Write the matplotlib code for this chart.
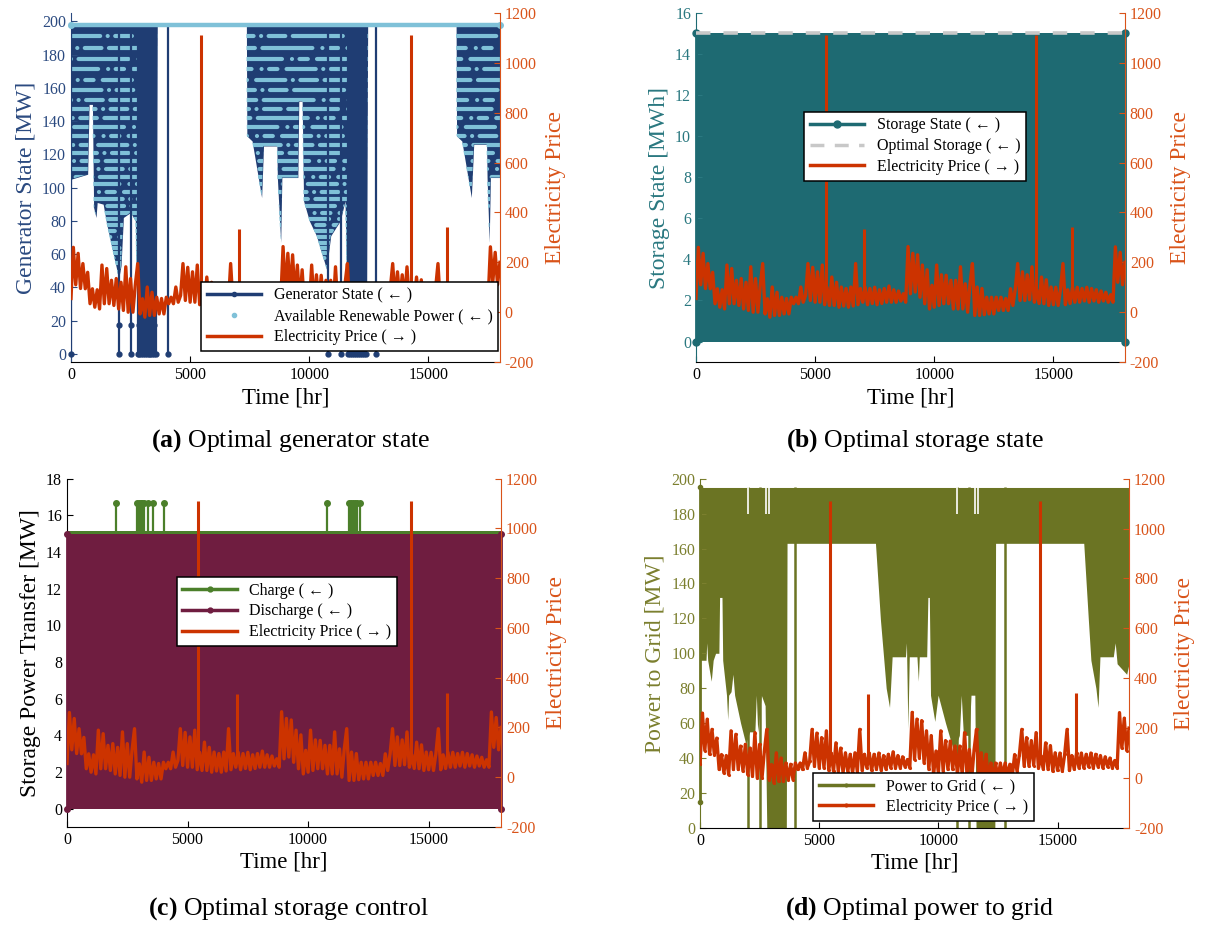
"""Optimal dispatch figure: generator, storage, storage control and grid power
against electricity price (values read off the published figure)."""
import numpy as np
import matplotlib
matplotlib.use("Agg")
import matplotlib.pyplot as plt
from matplotlib.lines import Line2D

plt.rcParams["font.family"] = ["Liberation Serif", "DejaVu Serif"]
plt.rcParams["mathtext.fontset"] = "custom"
plt.rcParams["mathtext.rm"] = "Liberation Serif"
plt.rcParams["mathtext.bf"] = "Liberation Serif:bold"
plt.rcParams["axes.unicode_minus"] = False

# ---------------------------------------------------------------- data
T_END = 18000
PRICE_STEP = 100  # hr between the price samples below
PRICE = [
    55, 260, 110, 236, 95, 195, 94, 160, 34, 94,
    20, 90, 13, 189, 34, 175, 34, 128, 27, 135,
    13, 120, 7, 182, 0, 135, 0, 110, 195, -7,
    54, -20, 101, -13, 80, -13, 60, -7, 55, -7,
    60, 34, 60, 34, 101, 40, 67, 195, 47, 180,
    40, 162, 40, 189, 30, 100, 27, 141, 27, 120,
    20, 101, 25, 95, 20, 101, 25, 195, 30, 95,
    40, 100, 30, 95, 35, 100, 30, 90, 35, 95,
    40, 105, 40, 90, 40, 85, 45, 74, 40, 263,
    74, 236, 81, 230, 60, 189, 34, 170, 13, 108,
    20, 189, 27, 150, 34, 148, 34, 128, 13, 128,
    13, 182, 13, 114, 0, 114, 195, -13, 101, -13,
    95, -10, 60, -7, 60, -7, 60, 7, 60, 7,
    55, 7, 94, 27, 94, 195, 47, 162, 47, 150,
    50, 182, 40, 90, 35, 141, 34, 130, 27, 101,
    30, 100, 27, 95, 195, 30, 90, 35, 100, 40,
    100, 40, 95, 45, 100, 40, 95, 45, 90, 40,
    85, 45, 80, 40, 70, 40, 262, 120, 240, 110,
    200,
]
SPIKE_T = [5450, 7060, 14250, 15760]
SPIKE_BASE = [60, 60, 60, 60]
SPIKE_TOP = [1110, 335, 1110, 340]

# (a) generator / renewable availability
GEN_TOP = 198
GEN_ENV_T = [0, 700, 760, 900, 950, 1050, 1100, 1350, 1500, 1700, 1900, 2000,
             2100, 2200, 2500, 2700, 2780, 3580, 3620, 7360, 7380, 7600, 8000,
             8080, 8640, 8660, 8800, 8850, 9520, 9560, 9700, 9760, 10000, 10300,
             10720, 10900, 11300, 11500, 11600, 12400, 12450, 16160, 16180,
             16400, 16800, 16900, 17440, 17460, 17550, 17600, 18000]
GEN_ENV = [105, 108, 150, 150, 88, 82, 91, 90, 78, 65, 52, 45,
           53, 82, 85, 80, 25, 25, 198, 198, 131, 128, 94,
           125, 125, 106, 67, 106, 106, 152, 152, 92, 80, 71,
           51, 71, 80, 92, 25, 25, 198, 198, 131,
           128, 94, 126, 126, 106, 67, 106, 106]
RENEW_LEVELS = [191.1, 184.2, 177.6, 171.1, 164.8, 158.8, 152.7, 147.3, 141.6,
                136.2, 130.9, 125.7, 120.6, 115.8, 110.9, 106.3, 101.9, 97.4,
                93.2, 89.0, 84.9, 81.1, 77.4, 73.8, 70.4, 66.9, 63.7, 60.7,
                57.6, 54.8, 52.0, 49.4, 46.7]
GEN_DENSE = [(2780, 3580), (11600, 12400)]
GEN_DENSE_LO = 24
GEN_DROP_T = [0, 2030, 2520, 2800, 2870, 2950, 3020, 3100, 3180, 3260, 3330,
              3420, 3480, 3560, 4070, 10800, 11330, 11620, 11700, 11780, 11860,
              11950, 12030, 12110, 12200, 12280, 12360, 12800]
GEN_MID_T = [2030, 2520, 2870, 3020, 3180, 3330, 3480]
GEN_MID = 17

# (b) storage
STORAGE_MIN, STORAGE_MAX = 0, 15
OPT_STORAGE = 15

# (c) storage control
CHARGE_BASE = 15.15
CHARGE_SPIKE = 16.7
CHARGE_SPIKE_T = [2030, 2920, 2990, 3060, 3130, 3210, 3350, 3550, 4040,
                  10800, 11710, 11790, 11870, 11950, 12040, 12140]
DISCHARGE_MAX = 15

# (d) power to grid
GRID_TOP = 195
GRID_START = 15
GRID_ENV_T = [0, 250, 280, 320, 470, 550, 650, 790, 820, 920, 950, 1110, 1160,
              1200, 1300, 1380, 1450, 1700, 1920, 2080, 2300, 2360, 2420, 2570,
              2730, 2800, 3620, 3650, 7360, 7570, 7700, 7810, 7950, 8060, 8620,
              8660, 8720, 8780, 9100, 9160, 9200, 9510, 9560, 9620, 9670, 9850,
              9990, 10300, 10640, 10880, 10960, 11050, 11290, 11370, 11530,
              11580, 12370, 12400, 16100, 16290, 16400, 16610, 16700, 16780,
              17340, 17420, 17500, 17900, 18000]
GRID_ENV = [96, 96, 106, 96, 84, 96, 100, 100, 132, 132, 96, 76, 62,
            76, 78, 88, 76, 60, 48, 55, 55, 76, 55, 76,
            70, 0, 0, 163, 163, 119, 98, 80, 69, 98, 98,
            106, 57, 98, 98, 84, 98, 98, 132, 132, 76, 61,
            76, 60, 44, 53, 76, 53, 53, 76, 76,
            0, 0, 163, 163, 120, 96, 80, 69, 98,
            98, 106, 94, 88, 94]
GRID_DROP_T = [2000, 2500, 3990, 10800, 11290, 12800]
GRID_GAP_T = [2000, 2760, 2900, 10800, 11530, 11680]
GRID_GAP_LO = 180

# ---------------------------------------------------------------- style
PRICE_C = "#cc3300"
RIGHT_C = "#d95319"
GEN_C = "#1f3d73"
GEN_LBL = "#2b4a80"
RENEW_C = "#7fc1d8"
TEAL = "#1e6a72"
TEAL_LBL = "#2a7880"
OPT_C = "#c8c8c8"
MAROON = "#6f1d40"
GREEN = "#4b7f2a"
OLIVE = "#6b7423"
OLIVE_LBL = "#7b7f2e"

PRICE_T = np.arange(len(PRICE)) * PRICE_STEP

fig = plt.figure(figsize=(12.07, 9.26), dpi=100)


def _twin(pos, left_color, ylim, yticks, ylabel, spine_color=None):
    ax = fig.add_axes(pos)
    ax2 = ax.twinx()
    ax.set_xlim(0, T_END)
    ax.set_xticks([0, 5000, 10000, 15000])
    ax.set_ylim(*ylim)
    ax.set_yticks(yticks)
    ax.set_xlabel("Time [hr]", fontsize=16.5, labelpad=3)
    ax.set_ylabel(ylabel, fontsize=17, color=left_color, labelpad=4)
    ax.tick_params(axis="y", colors=left_color, direction="in", labelsize=11.5,
                   length=4)
    ax.tick_params(axis="x", direction="in", labelsize=11.5, length=4)
    for s in ("top", "right"):
        ax.spines[s].set_visible(False)
    ax.spines["left"].set_color(spine_color or left_color)
    ax2.set_ylim(-200, 1200)
    ax2.set_yticks(range(-200, 1201, 200))
    ax2.tick_params(axis="y", colors=RIGHT_C, direction="in", labelsize=11.5,
                    length=4)
    ax2.set_ylabel("Electricity Price", fontsize=17, color=RIGHT_C, labelpad=6)
    for s in ("top", "left", "bottom"):
        ax2.spines[s].set_visible(False)
    ax2.spines["right"].set_color(RIGHT_C)
    return ax, ax2


def _price(ax2, marker=None):
    ax2.plot(PRICE_T, PRICE, color=PRICE_C, lw=2.4, marker=marker, ms=2.5,
             zorder=3)
    ax2.vlines(SPIKE_T, SPIKE_BASE, SPIKE_TOP, color=PRICE_C, lw=2.2, zorder=3)


def _legend(ax2, handles, labels, loc, anchor):
    leg = ax2.legend(handles, labels, loc=loc, bbox_to_anchor=anchor,
                     fontsize=11.5, fancybox=False, edgecolor="black",
                     framealpha=1, borderaxespad=0, handlelength=3.4,
                     labelspacing=0.3, borderpad=0.35)
    leg.get_frame().set_linewidth(1.1)
    leg.set_zorder(10)


def _caption(ax, y, tag, text):
    bb = ax.get_position()
    fig.text((bb.x0 + bb.x1) / 2 + 0.004, y, rf"$\mathbf{{({tag})}}$ {text}",
             ha="center", va="center", fontsize=18.5)


# ---------------------------------------------------------------- (a)
ax, ax2 = _twin([0.0588, 0.609, 0.3554, 0.377], GEN_LBL, (-5, 205),
                range(0, 201, 20), "Generator State [MW]")
band = ax.fill_between(GEN_ENV_T, GEN_ENV, GEN_TOP, color=GEN_C, lw=0, zorder=1)
clip = band.get_paths()[0]
for i, lv in enumerate(RENEW_LEVELS):
    ln, = ax.plot([0, T_END], [lv, lv], color=RENEW_C, lw=3.0, zorder=2,
                  dash_capstyle="round",
                  ls=((i * 7.3) % 50, (7, 1.8, 0.01, 1.8, 4, 1.8, 12, 2.4,
                                       0.01, 1.8, 2, 2.2)))
    ln.set_clip_path(clip, ax.transData)
for lo, hi in GEN_DENSE:
    ax.fill_between([lo, hi], GEN_DENSE_LO, GEN_TOP - 3, color=GEN_C, lw=0,
                    zorder=3)
ax.vlines(GEN_DROP_T, 0, GEN_TOP, color=GEN_C, lw=1.6, zorder=3)
ax.plot(GEN_DROP_T, [0] * len(GEN_DROP_T), "o", ms=3.5, color=GEN_C,
        clip_on=False, zorder=4)
ax.plot(GEN_MID_T, [GEN_MID] * len(GEN_MID_T), "o", ms=3.5, color=GEN_C,
        zorder=4)
ax.plot([0, T_END], [GEN_TOP, GEN_TOP], color=RENEW_C, lw=3.2, marker="o",
        ms=4, clip_on=False, zorder=4)
_price(ax2)
_legend(ax2,
        [Line2D([], [], color=GEN_C, lw=2.5, marker="o", ms=3),
         Line2D([], [], ls="none", marker="o", ms=3, color=RENEW_C),
         Line2D([], [], color=PRICE_C, lw=2.5)],
        ["Generator State ( \u2190 )", "Available Renewable Power ( \u2190 )",
         "Electricity Price ( \u2192 )"],
        "lower right", (0.996, 0.032))
_caption(ax, 0.524, "a", "Optimal generator state")

# ---------------------------------------------------------------- (b)
ax, ax2 = _twin([0.5766, 0.609, 0.3554, 0.377], TEAL_LBL, (-1, 16),
                range(0, 17, 2), "Storage State [MWh]", spine_color=TEAL)
ax.fill_between([0, T_END], STORAGE_MIN, STORAGE_MAX, color=TEAL, lw=0,
                zorder=1)
for t in (0, T_END):
    ax.plot([t, t], [STORAGE_MIN, STORAGE_MAX], color=TEAL, lw=2, marker="o",
            ms=5, clip_on=False, zorder=2)
ax.plot([0, T_END], [OPT_STORAGE, OPT_STORAGE], color=OPT_C, lw=2.6,
        dashes=(4, 3.6), zorder=3)
_price(ax2)
_legend(ax2,
        [Line2D([], [], color=TEAL, lw=2.5, marker="o", ms=5),
         Line2D([], [], color=OPT_C, lw=2.5, dashes=(4, 3)),
         Line2D([], [], color=PRICE_C, lw=2.5)],
        ["Storage State ( \u2190 )", "Optimal Storage ( \u2190 )",
         "Electricity Price ( \u2192 )"],
        "upper left", (0.253, 0.717))
_caption(ax, 0.524, "b", "Optimal storage state")

# ---------------------------------------------------------------- (c)
ax, ax2 = _twin([0.0555, 0.107, 0.3596, 0.376], "black", (-1, 18),
                range(0, 19, 2), "Storage Power Transfer [MW]")
ax.fill_between([0, T_END], 0, CHARGE_BASE, color=GREEN, lw=0, zorder=1)
ax.vlines(CHARGE_SPIKE_T, CHARGE_BASE, CHARGE_SPIKE, color=GREEN, lw=1.6,
          zorder=1)
ax.plot(CHARGE_SPIKE_T, [CHARGE_SPIKE] * len(CHARGE_SPIKE_T), "o", ms=4,
        color=GREEN, zorder=2)
ax.fill_between([0, T_END], 0, DISCHARGE_MAX, color=MAROON, lw=0, zorder=2)
for t in (0, T_END):
    ax.plot([t, t], [0, DISCHARGE_MAX], color=MAROON, lw=2, marker="o", ms=4,
            clip_on=False, zorder=3)
_price(ax2)
_legend(ax2,
        [Line2D([], [], color=GREEN, lw=2.5, marker="o", ms=3.5),
         Line2D([], [], color=MAROON, lw=2.5, marker="o", ms=3.5),
         Line2D([], [], color=PRICE_C, lw=2.5)],
        ["Charge ( \u2190 )", "Discharge ( \u2190 )",
         "Electricity Price ( \u2192 )"],
        "upper left", (0.253, 0.718))
_caption(ax, 0.019, "c", "Optimal storage control")

# ---------------------------------------------------------------- (d)
ax, ax2 = _twin([0.580, 0.106, 0.3554, 0.377], OLIVE_LBL, (0, 200),
                range(0, 201, 20), "Power to Grid [MW]", spine_color=OLIVE)
ax.fill_between(GRID_ENV_T, GRID_ENV, GRID_TOP, color=OLIVE, lw=0, zorder=1)
ax.vlines(GRID_DROP_T, 0, GRID_TOP, color=OLIVE, lw=1.8, zorder=2)
ax.plot([0, 0], [GRID_START, GRID_TOP], color=OLIVE, lw=2, marker="o", ms=3,
        clip_on=False, zorder=2)
ax.vlines(GRID_GAP_T, GRID_GAP_LO, GRID_TOP, color="white", lw=1.2, zorder=2)
_price(ax2, marker=".")
_legend(ax2,
        [Line2D([], [], color=OLIVE, lw=2.5, marker=".", ms=4),
         Line2D([], [], color=PRICE_C, lw=2.5, marker=".", ms=4)],
        ["Power to Grid ( \u2190 )", "Electricity Price ( \u2192 )"],
        "lower left", (0.264, 0.021))
_caption(ax, 0.019, "d", "Optimal power to grid")

fig.savefig("out.png", dpi=100)
